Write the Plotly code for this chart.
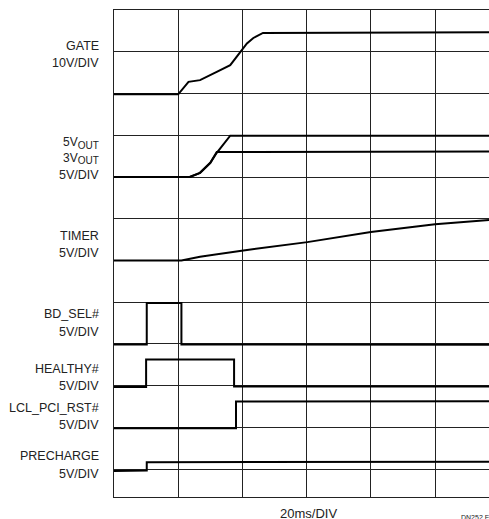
import plotly.graph_objects as go

# Time axis in divisions (20 ms/DIV); vertical in screen divisions
gate_t = [0.0, 1.00, 1.16, 1.34, 1.60, 1.81, 1.96, 2.07, 2.17, 2.32, 5.84]
gate_v = [8.98, 8.98, 9.28, 9.32, 9.52, 9.68, 9.98, 10.20, 10.33, 10.45, 10.47]

v5_t = [0.0, 1.18, 1.34, 1.50, 1.60, 1.81, 5.84]
v5_v = [7.0, 7.0, 7.10, 7.34, 7.58, 7.99, 7.99]

v3_t = [0.0, 1.18, 1.34, 1.50, 1.60, 5.84]
v3_v = [7.0, 7.0, 7.10, 7.34, 7.60, 7.61]

timer_t = [0.0, 1.05, 1.34, 1.96, 3.01, 4.00, 5.00, 5.84]
timer_v = [5.0, 5.0, 5.09, 5.23, 5.44, 5.68, 5.87, 5.97]

bdsel_t = [0.0, 0.51, 0.51, 1.05, 1.05, 5.84]
bdsel_v = [2.99, 2.99, 3.98, 3.98, 2.99, 2.98]

healthy_t = [0.0, 0.50, 0.50, 1.87, 1.87, 5.84]
healthy_v = [1.97, 1.97, 2.63, 2.63, 1.98, 1.98]

rst_t = [0.0, 1.90, 1.90, 5.84]
rst_v = [0.98, 0.98, 1.62, 1.63]

pre_t = [0.0, 0.51, 0.51, 5.84]
pre_v = [-0.04, -0.03, 0.17, 0.18]

SUB = '<sub><span style="font-size:10px">OUT</span></sub>'
labels = [
    ("GATE", 10.14), ("10V/DIV", 9.72),
    ("5V" + SUB + "<br>3V" + SUB, 7.63), ("5V/DIV", 7.04),
    ("TIMER", 5.59), ("5V/DIV", 5.18),
    ("BD_SEL#", 3.72), ("5V/DIV", 3.29),
    ("HEALTHY#", 2.41), ("5V/DIV", 2.0),
    ("LCL_PCI_RST#", 1.46), ("5V/DIV", 1.07),
    ("PRECHARGE", 0.32), ("5V/DIV", -0.11),
]

traces = [
    (gate_t, gate_v), (v5_t, v5_v), (v3_t, v3_v), (timer_t, timer_v),
    (bdsel_t, bdsel_v), (healthy_t, healthy_v), (rst_t, rst_v), (pre_t, pre_v),
]

FONT = "Liberation Sans, Arial, sans-serif"
PLOT_W = 375  # plot area width in px

fig = go.Figure()
for t, v in traces:
    fig.add_trace(go.Scatter(x=t, y=v, mode="lines",
                             line=dict(color="black", width=2),
                             hoverinfo="skip", showlegend=False))

annotations = []
for text, y in labels:
    annotations.append(dict(text=text, x=-13 / PLOT_W, xref="paper", y=y, yref="y",
                            xanchor="right", yanchor="middle", showarrow=False,
                            align="right",
                            font=dict(family=FONT, size=12 if "<br>" in text else 12.5,
                                      color="#222")))
annotations.append(dict(text="20ms/DIV", x=194 / PLOT_W, xref="paper", y=0, yref="paper",
                        xanchor="center", yanchor="top", yshift=-7, showarrow=False,
                        font=dict(family=FONT, size=13, color="#222")))
annotations.append(dict(text="DN252 F01", x=345 / PLOT_W, xref="paper", y=0, yref="paper",
                        xanchor="left", yanchor="top", yshift=-15, showarrow=False,
                        font=dict(family=FONT, size=7, color="#222")))

fig.update_layout(
    width=489, height=519,
    margin=dict(l=114, r=0, t=10, b=22),
    paper_bgcolor="white", plot_bgcolor="white",
    annotations=annotations,
    hovermode=False,
    xaxis=dict(range=[0, 5.84], dtick=1, tick0=0, showgrid=True,
               gridcolor="#222", gridwidth=1, zeroline=False,
               showticklabels=False, ticks="", showline=True,
               linecolor="#222", linewidth=1, mirror=True),
    yaxis=dict(range=[-0.665, 11], dtick=1, tick0=0, showgrid=True,
               gridcolor="#222", gridwidth=1, zeroline=False,
               showticklabels=False, ticks="", showline=True,
               linecolor="#222", linewidth=1),
)

fig.write_html("out.html",
               config={"displayModeBar": False},
               post_script="document.body.style.margin='0';"
                           "document.body.style.overflow='hidden';")
